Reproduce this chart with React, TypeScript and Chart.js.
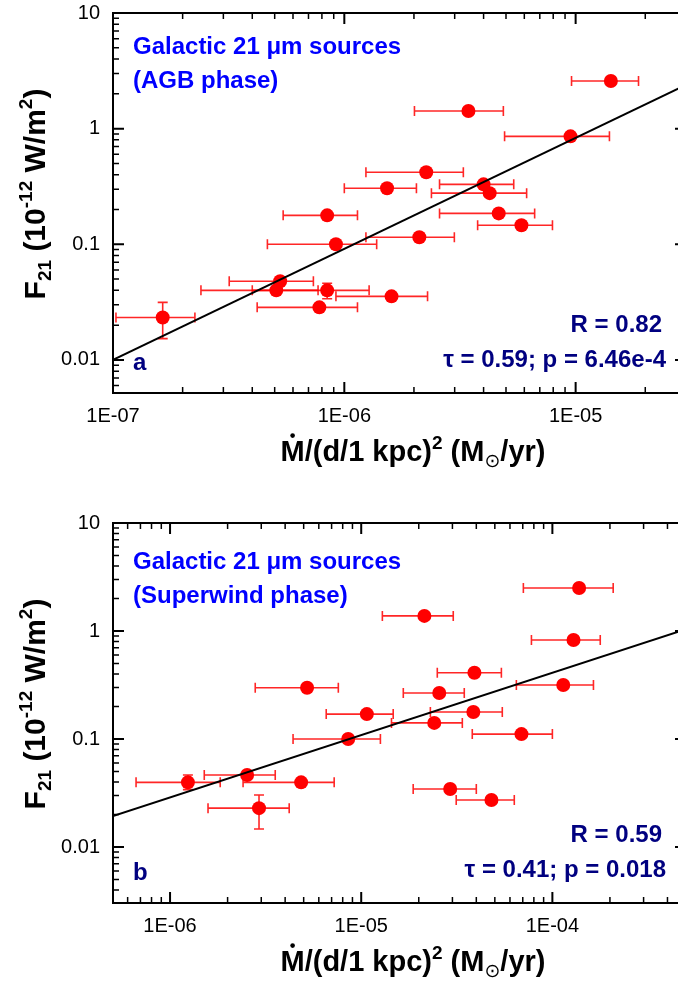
import React, { useEffect, useRef } from 'react';
import { Chart, registerables } from 'chart.js';

Chart.register(...registerables);

// ---------------- Panel a (AGB phase) ----------------
const aX = [1.42e-5, 3.44e-6, 9.5e-6, 2.26e-6, 1.53e-6, 4.0e-6, 4.25e-6, 4.65e-6, 5.83e-6, 2.11e-6, 9.2e-7, 8.43e-7, 1.6e-6, 8.43e-7, 5.08e-7, 5.28e-7, 7.8e-7, 1.64e-7];
const aXLo = [9.6e-6, 2.01e-6, 4.93e-6, 1.24e-6, 1.0e-6, 2.58e-6, 2.38e-6, 2.58e-6, 3.77e-6, 1.24e-6, 4.65e-7, 5.44e-7, 9.2e-7, 4.0e-7, 2.4e-7, 3.18e-7, 4.2e-7, 1.03e-7];
const aXHi = [1.87e-5, 4.87e-6, 1.4e-5, 3.27e-6, 2.05e-6, 5.4e-6, 6.14e-6, 6.65e-6, 7.94e-6, 2.99e-6, 1.38e-6, 1.14e-6, 2.29e-6, 1.28e-6, 7.7e-7, 7.35e-7, 1.14e-6, 2.26e-7];
const aY = [2.58, 1.42, 0.858, 0.42, 0.305, 0.33, 0.277, 0.185, 0.146, 0.115, 0.1, 0.178, 0.0355, 0.04, 0.04, 0.0479, 0.0285, 0.0233];
const aYLo = [null, null, null, null, null, null, null, null, null, null, null, null, null, 0.0338, null, null, null, 0.0153];
const aYHi = [null, null, null, null, null, null, null, null, null, null, null, null, null, 0.046, null, null, null, 0.0315];
const aFitSlope = 0.96;
const aFitIntercept = 4.72;
const aXRange = [1e-7, 3e-5];
const aYRange = [0.00518, 10];
const aXTickValues = [1e-7, 1e-6, 1e-5];
const aXTickLabels = ['1E-07', '1E-06', '1E-05'];
const aTitleLines = ['Galactic 21 \u03bcm sources', '(AGB phase)'];
const aStats = ['R = 0.82', '\u03c4 = 0.59; p = 6.46e-4'];
const aLetter = 'a';

// ---------------- Panel b (Superwind phase) ----------------
const bX = [1.38e-4, 2.14e-5, 1.29e-4, 3.91e-5, 1.14e-4, 2.56e-5, 1.07e-5, 3.86e-5, 2.41e-5, 6.89e-5, 8.55e-6, 2.92e-5, 4.8e-5, 1.24e-6, 2.53e-6, 4.85e-6, 2.92e-6, 5.21e-6];
const bXLo = [7.05e-5, 1.29e-5, 7.77e-5, 2.5e-5, 6.48e-5, 1.66e-5, 6.56e-6, 2.3e-5, 1.44e-5, 3.81e-5, 4.4e-6, 1.87e-5, 3.14e-5, 6.64e-7, 1.51e-6, 2.41e-6, 1.58e-6, 2.79e-6];
const bXHi = [2.08e-4, 3.03e-5, 1.78e-4, 5.41e-5, 1.64e-4, 3.46e-5, 1.47e-5, 5.47e-5, 3.38e-5, 1.0e-4, 1.26e-5, 4.0e-5, 6.32e-5, 1.83e-6, 3.55e-6, 7.22e-6, 4.2e-6, 7.59e-6];
const bY = [2.5, 1.38, 0.826, 0.41, 0.316, 0.267, 0.17, 0.178, 0.141, 0.111, 0.1, 0.0344, 0.0272, 0.0397, 0.0464, 0.0397, 0.0229, 0.298];
const bYLo = [null, null, null, null, null, null, null, null, null, null, null, null, null, 0.034, null, null, 0.0147, null];
const bYHi = [null, null, null, null, null, null, null, null, null, null, null, null, null, 0.0464, null, null, 0.0303, null];
const bFitSlope = 0.577;
const bFitIntercept = 1.921;
const bXRange = [5.03e-7, 5e-4];
const bYRange = [0.00303, 10];
const bXTickValues = [1e-6, 1e-5, 1e-4];
const bXTickLabels = ['1E-06', '1E-05', '1E-04'];
const bTitleLines = ['Galactic 21 \u03bcm sources', '(Superwind phase)'];
const bStats = ['R = 0.59', '\u03c4 = 0.41; p = 0.018'];
const bLetter = 'b';

// ---------------- shared y ticks ----------------
const yTickValues = [0.01, 0.1, 1, 10];
const yTickLabels = ['0.01', '0.1', '1', '10'];

const FONT = '"Liberation Sans", Arial, Helvetica, sans-serif';
const RED = '#FF0000';
const ERR = 'rgba(255,0,0,0.85)';
const BLUE = '#0000FF';
const NAVY = '#000080';
const VIEW_RIGHT = 679; // right edge of the visible window, for right-aligned texts
const CANVAS_W = 694;

type Panel = {
  x: number[]; xLo: number[]; xHi: number[]; y: number[];
  yLo: (number | null)[]; yHi: (number | null)[];
  slope: number; intercept: number;
  xRange: number[]; yRange: number[];
  xTickValues: number[]; xTickLabels: string[];
  titleLines: string[]; stats: string[]; letter: string;
  padTop: number; axisHeight: number; titleTop: number;
};

const panelA: Panel = {
  x: aX, xLo: aXLo, xHi: aXHi, y: aY, yLo: aYLo, yHi: aYHi,
  slope: aFitSlope, intercept: aFitIntercept, xRange: aXRange, yRange: aYRange,
  xTickValues: aXTickValues, xTickLabels: aXTickLabels,
  titleLines: aTitleLines, stats: aStats, letter: aLetter,
  padTop: 13, axisHeight: 102, titleTop: 41,
};
const panelB: Panel = {
  x: bX, xLo: bXLo, xHi: bXHi, y: bY, yLo: bYLo, yHi: bYHi,
  slope: bFitSlope, intercept: bFitIntercept, xRange: bXRange, yRange: bYRange,
  xTickValues: bXTickValues, xTickLabels: bXTickLabels,
  titleLines: bTitleLines, stats: bStats, letter: bLetter,
  padTop: 28, axisHeight: 87, titleTop: 46,
};

function labelFor(v: number, vals: number[], labels: string[]) {
  for (let i = 0; i < vals.length; i++) {
    if (Math.abs(v / vals[i] - 1) < 1e-6) return labels[i];
  }
  return '';
}

function tickKind(v: number): string | null {
  const e = Math.floor(Math.log10(v) + 1e-9);
  const m = v / Math.pow(10, e);
  const r = Math.round(m);
  if (Math.abs(m - r) > 1e-6) return null;
  if (r === 1 || r === 10) return 'major';
  return 'minor';
}

type Piece = { t: string; mode?: 'sup' | 'sub'; sym?: boolean; dot?: boolean };

function pieceFont(p: Piece, size: number) {
  const s = p.mode ? Math.round(size * 0.64) : size;
  if (p.sym) return `${s}px "DejaVu Sans", sans-serif`;
  return `bold ${s}px ${FONT}`;
}

function drawRich(ctx: CanvasRenderingContext2D, pieces: Piece[], cx: number, baseY: number, size: number) {
  let total = 0;
  const widths: number[] = [];
  for (const p of pieces) {
    ctx.font = pieceFont(p, size);
    const w = ctx.measureText(p.t).width;
    widths.push(w);
    total += w;
  }
  let x = cx - total / 2;
  ctx.textAlign = 'left';
  ctx.textBaseline = 'alphabetic';
  pieces.forEach((p, i) => {
    ctx.font = pieceFont(p, size);
    let dy = 0;
    if (p.mode === 'sup') dy = -size * 0.42;
    if (p.mode === 'sub') dy = size * 0.2;
    ctx.fillText(p.t, x, baseY + dy);
    if (p.dot) {
      ctx.beginPath();
      ctx.arc(x + widths[i] / 2, baseY - size * 0.72 - 4.5, 2.3, 0, Math.PI * 2);
      ctx.fill();
    }
    x += widths[i];
  });
}

function makePlugin(panel: Panel) {
  return {
    id: 'deco',
    beforeDatasetsDraw(chart: any) {
      const ctx: CanvasRenderingContext2D = chart.ctx;
      const xs = chart.scales.x;
      const ys = chart.scales.y;
      ctx.save();
      ctx.strokeStyle = ERR;
      ctx.lineWidth = 1.6;
      const cap = 5;
      for (let i = 0; i < panel.x.length; i++) {
        const py = ys.getPixelForValue(panel.y[i]);
        const px = xs.getPixelForValue(panel.x[i]);
        const x1 = xs.getPixelForValue(panel.xLo[i]);
        const x2 = xs.getPixelForValue(panel.xHi[i]);
        ctx.beginPath();
        ctx.moveTo(x1, py); ctx.lineTo(x2, py);
        ctx.moveTo(x1, py - cap); ctx.lineTo(x1, py + cap);
        ctx.moveTo(x2, py - cap); ctx.lineTo(x2, py + cap);
        ctx.stroke();
        const lo = panel.yLo[i];
        const hi = panel.yHi[i];
        if (lo != null && hi != null) {
          const y1 = ys.getPixelForValue(lo);
          const y2 = ys.getPixelForValue(hi);
          ctx.beginPath();
          ctx.moveTo(px, y1); ctx.lineTo(px, y2);
          ctx.moveTo(px - cap, y1); ctx.lineTo(px + cap, y1);
          ctx.moveTo(px - cap, y2); ctx.lineTo(px + cap, y2);
          ctx.stroke();
        }
      }
      ctx.restore();
    },
    afterDraw(chart: any) {
      const ctx: CanvasRenderingContext2D = chart.ctx;
      const { left, right, top, bottom } = chart.chartArea;
      const xs = chart.scales.x;
      const ys = chart.scales.y;
      ctx.save();
      ctx.strokeStyle = '#000';
      for (const t of xs.ticks) {
        const k = tickKind(t.value);
        if (!k) continue;
        const p = xs.getPixelForValue(t.value);
        if (p < left - 1 || p > right + 1) continue;
        const len = k === 'major' ? 11 : 6;
        ctx.lineWidth = k === 'major' ? 2 : 1.5;
        ctx.beginPath();
        ctx.moveTo(p, bottom); ctx.lineTo(p, bottom - len);
        ctx.moveTo(p, top); ctx.lineTo(p, top + len);
        ctx.stroke();
      }
      for (const t of ys.ticks) {
        const k = tickKind(t.value);
        if (!k) continue;
        const p = ys.getPixelForValue(t.value);
        if (p < top - 1 || p > bottom + 1) continue;
        const len = k === 'major' ? 11 : 6;
        ctx.lineWidth = k === 'major' ? 2 : 1.5;
        ctx.beginPath();
        ctx.moveTo(left, p); ctx.lineTo(left + len, p);
        ctx.moveTo(right, p); ctx.lineTo(right - len, p);
        ctx.stroke();
      }
      ctx.lineWidth = 2;
      ctx.strokeRect(left, top, right - left, bottom - top);

      ctx.textBaseline = 'alphabetic';
      ctx.fillStyle = BLUE;
      ctx.font = `bold 24px ${FONT}`;
      ctx.textAlign = 'left';
      ctx.fillText(panel.titleLines[0], left + 20, top + panel.titleTop);
      ctx.fillText(panel.titleLines[1], left + 20, top + panel.titleTop + 34);

      ctx.fillStyle = NAVY;
      ctx.textAlign = 'right';
      ctx.fillText(panel.stats[0], VIEW_RIGHT - 17, bottom - 61);
      ctx.fillText(panel.stats[1], VIEW_RIGHT - 13, bottom - 26);
      ctx.textAlign = 'left';
      ctx.fillText(panel.letter, left + 20, bottom - 23);

      ctx.fillStyle = '#000';
      const xPieces: Piece[] = [
        { t: 'M', dot: true }, { t: '/(d/1 kpc)' }, { t: '2', mode: 'sup' },
        { t: ' (M' }, { t: '\u2299', mode: 'sub', sym: true }, { t: '/yr)' },
      ];
      drawRich(ctx, xPieces, (left + VIEW_RIGHT) / 2 + 17, bottom + 68, 29);

      const yPieces: Piece[] = [
        { t: 'F' }, { t: '21', mode: 'sub' }, { t: ' (10' }, { t: '-12', mode: 'sup' },
        { t: ' W/m' }, { t: '2', mode: 'sup' }, { t: ')' },
      ];
      ctx.save();
      ctx.translate(45, (top + bottom) / 2 - 9);
      ctx.rotate(-Math.PI / 2);
      drawRich(ctx, yPieces, 0, 0, 30);
      ctx.restore();

      ctx.restore();
    },
  };
}

function buildChart(canvas: HTMLCanvasElement, panel: Panel) {
  const pts = panel.x.map((x, i) => ({ x, y: panel.y[i] }));
  const fitY = (x: number) => Math.pow(10, panel.slope * Math.log10(x) + panel.intercept);
  const fit = [panel.xRange[0], panel.xRange[1]].map((x) => ({ x, y: fitY(x) }));
  return new Chart(canvas, {
    type: 'scatter',
    data: {
      datasets: [
        {
          data: fit,
          showLine: true,
          borderColor: '#000',
          borderWidth: 2,
          pointRadius: 0,
          order: 0,
        } as any,
        {
          data: pts,
          pointRadius: 7,
          pointBackgroundColor: RED,
          pointBorderWidth: 0,
          backgroundColor: RED,
          borderColor: RED,
          order: 1,
        } as any,
      ],
    },
    options: {
      responsive: false,
      animation: false,
      devicePixelRatio: 1,
      layout: { padding: { left: 0, right: CANVAS_W - 686, top: panel.padTop, bottom: 0 } },
      plugins: { legend: { display: false }, tooltip: { enabled: false } },
      scales: {
        x: {
          type: 'logarithmic',
          min: panel.xRange[0],
          max: panel.xRange[1],
          grid: { display: false, drawTicks: false },
          border: { display: false },
          ticks: {
            autoSkip: false,
            maxRotation: 0,
            minRotation: 0,
            padding: 11,
            color: '#000',
            font: { size: 20, family: FONT },
            callback: (v: any) => labelFor(Number(v), panel.xTickValues, panel.xTickLabels),
          },
          afterFit: (s: any) => {
            s.height = panel.axisHeight;
            s.paddingLeft = 0;
            s.paddingRight = 0;
          },
        },
        y: {
          type: 'logarithmic',
          min: panel.yRange[0],
          max: panel.yRange[1],
          grid: { display: false, drawTicks: false },
          border: { display: false },
          ticks: {
            autoSkip: false,
            padding: 13,
            color: '#000',
            font: { size: 20, family: FONT },
            callback: (v: any) => labelFor(Number(v), yTickValues, yTickLabels),
          },
          afterFit: (s: any) => {
            s.width = 113;
            s.paddingTop = 0;
            s.paddingBottom = 0;
          },
        },
      },
    } as any,
    plugins: [makePlugin(panel)],
  });
}

function PanelChart({ panel, top }: { panel: Panel; top: number }) {
  const ref = useRef<HTMLCanvasElement | null>(null);
  useEffect(() => {
    if (!ref.current) return;
    const c = buildChart(ref.current, panel);
    return () => c.destroy();
  }, [panel]);
  return (
    <canvas
      ref={ref}
      width={CANVAS_W}
      height={495}
      style={{ position: 'absolute', left: 0, top, width: CANVAS_W, height: 495 }}
    />
  );
}

export default function App() {
  return (
    <div
      style={{
        position: 'absolute', left: 0, top: 0, width: 678, height: 990,
        overflow: 'hidden', background: '#fff',
      }}
    >
      <PanelChart panel={panelA} top={0} />
      <PanelChart panel={panelB} top={495} />
    </div>
  );
}
